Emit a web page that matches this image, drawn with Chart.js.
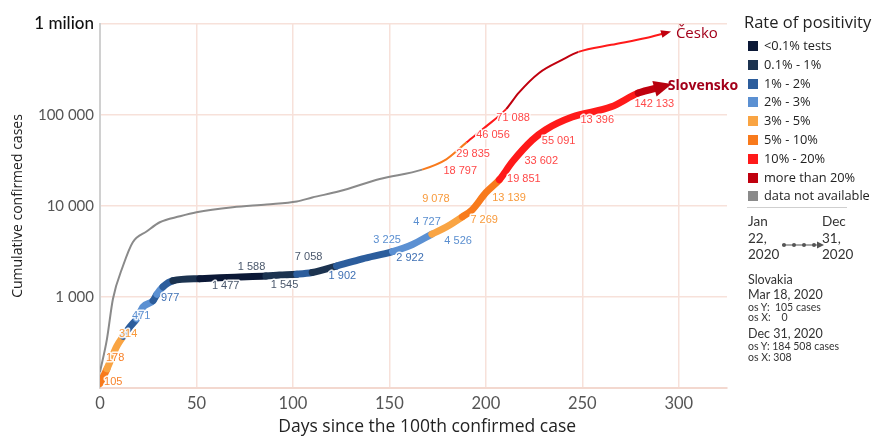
<!DOCTYPE html>
<html>
<head>
<meta charset="utf-8">
<script src="https://cdn.jsdelivr.net/npm/chart.js@4"></script>
<style>
body { margin: 0; background: #fff; }
#wrap { position: relative; width: 882px; height: 438px; }
#side { position: absolute; left: 0; top: 0; font-family: "Open Sans", sans-serif; color: #222; }
#side div { position: absolute; white-space: nowrap; }
.sq { width: 10px; height: 10px; }
.it { font-size: 12.8px; line-height: 14px; }
.tl { font-family: Lato, sans-serif; font-size: 13.5px; color: #333; line-height: 16.5px; }
.sm { font-family: Lato, sans-serif; font-size: 10.5px; color: #333; }
.md { font-family: Lato, sans-serif; font-size: 12.5px; color: #333; }
</style>
</head>
<body>
<div id="wrap">
<canvas id="chart" width="882" height="438"></canvas>
<div id="side"></div>
</div>
<script>
// positivity categories
const rateNames = ['<0.1%  tests', '0.1% - 1%', '1% - 2%', '2% - 3%', '3% - 5%', '5% - 10%', '10% - 20%', 'more than  20%', 'data not available'];
const rateColors = ['#0b1836', '#1c3350', '#2c5d9c', '#5b90d2', '#f9a443', '#f87a1c', '#ff1a1a', '#c0000e', '#8a8a8a'];
const labelColors = ['#4b586c', '#4b586c', '#3f70b4', '#5b8fd0', '#f89a3c', '#f8822a', '#ff4848', '#ff4848', '#777'];

// Slovensko
const skDays = [0, 3.6, 8.8, 12, 15.5, 19, 22.4, 27.5, 29.5, 32.6, 37.8, 51.7, 70, 86, 93, 102, 110, 122.6, 136, 151.6, 162, 172, 179.5, 187.8, 193, 200, 207, 213.7, 224, 231, 244.7, 265, 279, 291];
const skCases = [112, 162, 290, 370, 470, 575, 780, 910, 1070, 1290, 1510, 1590, 1650, 1700, 1740, 1780, 1860, 2190, 2630, 3160, 3780, 4900, 5870, 7600, 9100, 14000, 19400, 30500, 53000, 69000, 95000, 123000, 174000, 204000];
const skRate = [5, 4, 4, 2, 2, 3, 3, 2, 3, 2, 1, 0, 0, 1, 1, 2, 1, 2, 2, 3, 3, 4, 4, 5, 5, 5, 6, 6, 6, 6, 6, 6, 7];

// Česko
const czDays = [0, 3.6, 6.7, 11.9, 17, 24.3, 31, 41.4, 50, 68.8, 86.4, 102, 110, 124, 145, 167, 179.5, 190, 200, 210.5, 217, 227.6, 239.5, 248, 265, 283, 293];
const czCases = [150, 345, 950, 2190, 4000, 5270, 6630, 7700, 8530, 9700, 10400, 11200, 12400, 14500, 19800, 25100, 32600, 50000, 74500, 116000, 175000, 290000, 403000, 494000, 590000, 700000, 797000];
const czRate = [8, 8, 8, 8, 8, 8, 8, 8, 8, 8, 8, 8, 8, 8, 8, 5, 5, 6, 6, 7, 7, 7, 7, 6, 6, 6];

// value labels along the lines
const skLabelText = ['105', '178', '314', '471', '977', '1 477', '1 588', '1 545', '7 058', '1 902', '3 225', '2 922', '4 727', '4 526', '9 078', '7 269', '13 139', '19 851', '33 602', '55 091', '13 396', '142 133'];
const skLabelDay = [2.1, 3.1, 9.8, 16.6, 31.6, 58, 71.4, 88.5, 101, 118.5, 141.7, 153.6, 162.4, 178.5, 167, 192, 203.3, 211, 220, 229, 249, 277];
const skLabelCases = [117, 215, 394, 620, 975, 1320, 2130, 1350, 2740, 1700, 4210, 2670, 6620, 4100, 11800, 6970, 12400, 19600, 31600, 52400, 89000, 133000];
const skLabelRate = [5, 5, 4, 3, 2, 1, 1, 1, 1, 2, 3, 2, 3, 3, 4, 4, 4, 6, 6, 6, 6, 6];
const czLabelText = ['18 797', '29 835', '46 056', '71 088'];
const czLabelDay = [178, 184.7, 195, 205.4];
const czLabelCases = [24000, 37700, 61000, 93500];

const xTicks = [0, 50, 100, 150, 200, 250, 300];
const yTicks = [1000, 10000, 100000, 1000000];
const yTickText = {1000: '1 000', 10000: '10 000', 100000: '100 000', 1000000: '1 milion'};

function toPoints(xs, ys) {
    return xs.map((x, i) => ({x: x, y: ys[i]}));
}

function drawArrow(ctx, meta, len, half, color) {
    let pts = meta.data;
    let a = pts[pts.length - 2], b = pts[pts.length - 1];
    let ang = Math.atan2(b.y - a.y, b.x - a.x);
    ctx.save();
    ctx.translate(b.x, b.y);
    ctx.rotate(ang);
    ctx.fillStyle = color;
    ctx.beginPath();
    ctx.moveTo(len * 0.6, 0);
    ctx.lineTo(-len * 0.4, -half);
    ctx.lineTo(-len * 0.4, half);
    ctx.closePath();
    ctx.fill();
    ctx.restore();
}

function haloText(ctx, t, x, y) {
    ctx.strokeText(t, x, y);
    ctx.fillText(t, x, y);
}

const annotate = {
    id: 'annotate',
    afterDatasetsDraw(chart) {
        const ctx = chart.ctx;
        const xs = chart.scales.x, ys = chart.scales.y;
        drawArrow(ctx, chart.getDatasetMeta(0), 10, 4, '#c0000e');
        drawArrow(ctx, chart.getDatasetMeta(1), 18, 8, '#b8000e');

        ctx.save();
        ctx.font = '11px "Liberation Sans", Arial, sans-serif';
        ctx.textBaseline = 'middle';
        ctx.textAlign = 'left';
        ctx.strokeStyle = 'rgba(255,255,255,0.9)';
        ctx.lineWidth = 3;
        ctx.lineJoin = 'round';
        skLabelText.forEach((t, i) => {
            ctx.fillStyle = labelColors[skLabelRate[i]];
            haloText(ctx, t, xs.getPixelForValue(skLabelDay[i]), ys.getPixelForValue(skLabelCases[i]));
        });
        ctx.fillStyle = '#ff4848';
        czLabelText.forEach((t, i) => {
            haloText(ctx, t, xs.getPixelForValue(czLabelDay[i]), ys.getPixelForValue(czLabelCases[i]));
        });
        // series names
        ctx.fillStyle = '#a3001a';
        ctx.font = '15px "Open Sans", sans-serif';
        ctx.fillText('Česko', xs.getPixelForValue(298.5), ys.getPixelForValue(777000));
        ctx.font = 'bold 14px "Open Sans", sans-serif';
        ctx.fillText('Slovensko', xs.getPixelForValue(294.3), ys.getPixelForValue(209000));
        ctx.restore();
    }
};

new Chart(document.getElementById('chart').getContext('2d'), {
    type: 'line',
    data: {
        datasets: [{
            label: 'Česko',
            data: toPoints(czDays, czCases),
            borderWidth: 2,
            pointRadius: 0,
            cubicInterpolationMode: 'monotone',
            segment: {borderColor: c => rateColors[czRate[c.p0DataIndex]]}
        }, {
            label: 'Slovensko',
            data: toPoints(skDays, skCases),
            borderWidth: 7,
            borderCapStyle: 'round',
            borderJoinStyle: 'round',
            pointRadius: 0,
            cubicInterpolationMode: 'monotone',
            segment: {borderColor: c => rateColors[skRate[c.p0DataIndex]]}
        }]
    },
    options: {
        responsive: false,
        animation: false,
        layout: {padding: {top: 24, right: 155, left: 0, bottom: 0}},
        plugins: {legend: {display: false}, tooltip: {enabled: false}},
        scales: {
            x: {
                type: 'linear',
                min: 0,
                max: 325,
                afterBuildTicks: s => { s.ticks = xTicks.map(v => ({value: v})); },
                afterFit: s => { s.height = 50; },
                grid: {color: '#f7e1da', drawTicks: false, lineWidth: 1.5},
                border: {color: '#f3d8cf', width: 2},
                ticks: {padding: 6, color: '#555', font: {family: 'Lato', size: 16.5}},
                title: {display: true, text: '      Days since the 100th confirmed case', color: '#222',
                    font: {family: '"Open Sans"', size: 17.5}, padding: {top: 0, bottom: 0}}
            },
            y: {
                type: 'logarithmic',
                min: 100,
                max: 1000000,
                afterBuildTicks: s => { s.ticks = yTicks.map(v => ({value: v})); },
                afterFit: s => { s.width = 100; },
                grid: {color: '#f7e1da', drawTicks: false, lineWidth: 1.5},
                border: {color: '#d0d0d0', width: 2},
                ticks: {
                    padding: 6,
                    callback: v => yTickText[v],
                    color: c => c.tick.value === 1000000 ? '#111' : '#555',
                    font: c => c.tick.value === 1000000 ? {family: 'Lato', size: 17, weight: '500'} : {family: 'Lato', size: 15}
                },
                title: {display: true, text: 'Cumulative confirmed cases', color: '#222',
                    font: {family: '"Open Sans"', size: 14}, padding: {top: 10, bottom: 0}}
            }
        }
    },
    plugins: [annotate]
});

// side panel: legend and notes
const side = document.getElementById('side');
function put(html, cls, x, y, style) {
    let d = document.createElement('div');
    d.className = cls || '';
    d.style.left = x + 'px';
    d.style.top = y + 'px';
    if (style) d.style.cssText += style;
    d.innerHTML = html;
    side.appendChild(d);
}
put('Rate of positivity', '', 744, 10, 'font-size:16.5px;');
rateNames.forEach((n, i) => {
    let y = 46 + i * 18.8;
    put('', 'sq', 748, y - 5, 'background:' + rateColors[i] + ';');
    put(n, 'it', 764, y - 8);
});
put('', '', 747, 207, 'width:100px;height:1px;background:#cfcfcf;');
put('Jan<br>22,<br>2020', 'tl', 748, 213);
put('<svg width="44" height="10"><line x1="1" y1="5" x2="38" y2="5" stroke="#555" stroke-width="1.2"/>' +
    '<circle cx="3" cy="5" r="2" fill="#555"/><circle cx="13" cy="5" r="2" fill="#555"/><circle cx="23" cy="5" r="2" fill="#555"/><circle cx="33" cy="5" r="2" fill="#555"/>' +
    '<polygon points="36,1.5 43,5 36,8.5" fill="#555"/></svg>', '', 781, 233);
put('Dec<br>31,<br>2020', 'tl', 822, 213);
put('Slovakia', 'md', 748, 272);
put('Mar 18, 2020', 'md', 748, 287);
put('os Y:&nbsp; 105 cases', 'sm', 748, 301);
put('os X:&nbsp;&nbsp;&nbsp; 0', 'sm', 748, 311);
put('Dec 31, 2020', 'md', 748, 326);
put('os Y: 184 508 cases', 'sm', 748, 340);
put('os X: 308', 'sm', 748, 351);
</script>
</body>
</html>
